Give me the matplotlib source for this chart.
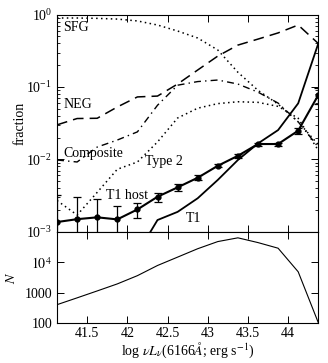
import numpy as np
import matplotlib
matplotlib.use('Agg')
import matplotlib.pyplot as plt
from matplotlib.ticker import FixedLocator, FuncFormatter, LogLocator, NullFormatter

plt.rcParams['font.family'] = ['Liberation Serif', 'DejaVu Serif']
plt.rcParams['mathtext.fontset'] = 'stix'
plt.rcParams['font.size'] = 10

# bin centres, log nu L_nu
lum = [41.125, 41.375, 41.625, 41.875, 42.125, 42.375, 42.625,
       42.875, 43.125, 43.375, 43.625, 43.875, 44.125, 44.375]

# fractions per class
sfg = [0.90, 0.90, 0.89, 0.87, 0.82, 0.72, 0.595, 0.476, 0.325, 0.16,
       0.09, 0.058, 0.033, 0.016]
neg = [0.030, 0.0367, 0.037, 0.053, 0.073, 0.075, 0.110, 0.172, 0.268,
       0.38, 0.46, 0.56, 0.72, 0.40]
composite = [0.0098, 0.0092, 0.0148, 0.0185, 0.024, 0.056, 0.106, 0.119,
             0.125, 0.11, 0.085, 0.060, 0.033, 0.0148]
type2 = [0.0027, 0.0017, 0.0035, 0.0073, 0.0092, 0.0174, 0.0373, 0.051,
         0.059, 0.0626, 0.0614, 0.054, 0.037, 0.0133]
t1 = [None, None, None, None, 0.0005, 0.00145, 0.00188, 0.0029, 0.0052,
      0.0098, 0.0166, 0.0254, 0.0595, 0.40]
t1_host = [0.00136, 0.00149, 0.00158, 0.00148, 0.00203, 0.00304, 0.0041,
           0.00557, 0.00815, 0.0112, 0.0163, 0.0163, 0.0249, 0.0775]
t1_host_err = [0.00185, 0.00149, 0.00122, 0.00078, 0.00047, 0.00043,
               0.0005, 0.00042, 0.0004, 0.0006, 0.0008, 0.0008, 0.0025, 0.02]

# number of galaxies per bin
n_gal = [407, 681, 1148, 1950, 3630, 7820, 14700, 27700, 47500, 63000,
         44000, 28800, 4860, 105]

fig = plt.figure(figsize=(3.28, 3.63), dpi=100)
ax1 = fig.add_axes([0.1738, 0.3617, 0.7966, 0.5978])
ax2 = fig.add_axes([0.1738, 0.1094, 0.7966, 0.2523])

ax1.plot(lum, sfg, color='k', ls=(0, (1, 2.2)), lw=1.1)
ax1.plot(lum, neg, color='k', ls=(0, (7, 4)), lw=1.1)
ax1.plot(lum, composite, color='k', ls=(0, (5, 3, 1, 3)), lw=1.0)
ax1.plot(lum, type2, color='k', ls=(0, (1, 2.2)), lw=1.1)
t1_x = [x for x, v in zip(lum, t1) if v is not None]
t1_y = [v for v in t1 if v is not None]
ax1.plot(t1_x, t1_y, color='k', lw=1.3)
ax1.errorbar(lum, t1_host, yerr=t1_host_err, color='k', lw=1.5,
             marker='o', ms=3.5, capsize=3, elinewidth=0.9, capthick=0.9)

ax1.text(41.2, 0.655, 'SFG', va='center', ha='left')
ax1.text(41.2, 0.057, 'NEG', va='center', ha='left')
ax1.text(41.2, 0.0122, 'Composite', va='center', ha='left')
ax1.text(42.225, 0.0094, 'Type 2', va='center', ha='left')
ax1.text(41.74, 0.00318, 'T1 host', va='center', ha='left')
ax1.text(42.725, 0.00154, 'T1', va='center', ha='left')

ax1.set_yscale('log')
ax1.set_ylim(1e-3, 1.0)
ax1.set_xlim(41.125, 44.375)
ax1.set_ylabel('fraction')
ax1.yaxis.set_label_coords(-0.115, 0.5)
ax1.tick_params(labelbottom=False)

ax2.plot(lum, n_gal, color='k', lw=0.8)
ax2.set_yscale('log')
ax2.set_ylim(100, 1e5)
ax2.set_xlim(41.125, 44.375)
ax2.set_ylabel('$N$')
ax2.yaxis.set_label_coords(-0.15, 0.5)
ax2.set_xlabel(r'log $\nu L_\nu$(6166$\AA$; erg s$^{-1}$)')
ax2.xaxis.set_label_coords(0.5, -0.19)


def n_fmt(v, pos):
    if v >= 1e4:
        return '$10^{%d}$' % int(round(np.log10(v)))
    return '%d' % int(round(v))


ax2.yaxis.set_major_locator(FixedLocator([100, 1000, 1e4]))
ax2.yaxis.set_major_formatter(FuncFormatter(n_fmt))
ax2.yaxis.set_minor_locator(LogLocator(base=10, subs=np.arange(2, 10)))
ax2.yaxis.set_minor_formatter(NullFormatter())
ax1.yaxis.set_minor_locator(LogLocator(base=10, subs=np.arange(2, 10)))
ax1.yaxis.set_minor_formatter(NullFormatter())

for ax in (ax1, ax2):
    ax.xaxis.set_major_locator(FixedLocator([41.5, 42, 42.5, 43, 43.5, 44]))
    ax.tick_params(which='both', direction='in', top=True, right=True)
    ax.tick_params(which='major', length=5, width=0.7)
    ax.tick_params(which='minor', length=2.5, width=0.6)
    for s in ax.spines.values():
        s.set_linewidth(0.8)
ax2.tick_params(axis='x', pad=2.5)
ax2.xaxis.set_major_formatter(FuncFormatter(lambda v, p: ('%g' % v)))

fig.savefig('out.png', dpi=100)
